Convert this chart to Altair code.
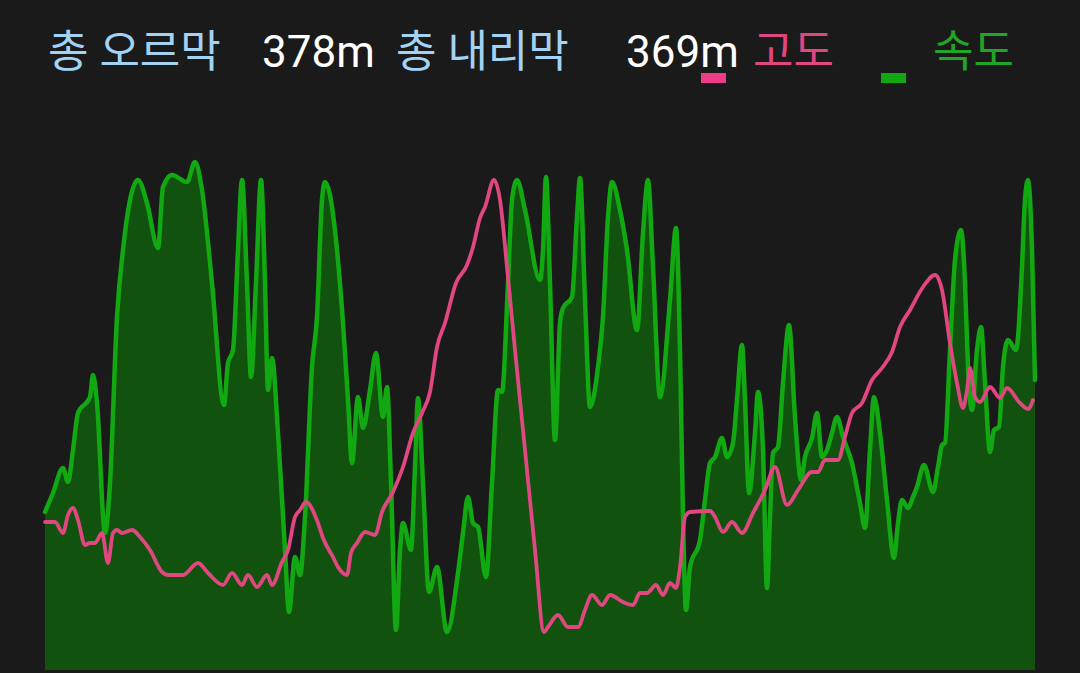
import altair as alt
import pandas as pd

# ---- data ----
speed_km = [0.00, 0.08, 0.18, 0.23, 0.28, 0.33, 0.45, 0.48, 0.52, 0.60,
            0.65, 0.72, 0.78, 0.85, 0.93, 1.02, 1.13, 1.18, 1.27, 1.42,
            1.50, 1.57, 1.67, 1.79, 1.83, 1.88, 1.93, 1.97, 2.02, 2.06,
            2.11, 2.16, 2.20, 2.23, 2.27, 2.33, 2.40, 2.44, 2.50, 2.55,
            2.60, 2.67, 2.72, 2.77, 2.80, 2.85, 2.92, 2.98, 3.03, 3.07,
            3.13, 3.18, 3.25, 3.31, 3.38, 3.42, 3.46, 3.51, 3.55, 3.58,
            3.66, 3.70, 3.73, 3.78, 3.84, 3.92, 4.02, 4.13, 4.18, 4.23,
            4.28, 4.33, 4.41, 4.47, 4.53, 4.57, 4.63, 4.67, 4.72, 4.80,
            4.95, 4.98, 5.01, 5.05, 5.10, 5.15, 5.18, 5.27, 5.32, 5.35,
            5.40, 5.45, 5.53, 5.58, 5.63, 5.67, 5.75, 5.82, 5.92, 5.98,
            6.03, 6.08, 6.15, 6.25, 6.31, 6.35, 6.38, 6.41, 6.45, 6.55,
            6.60, 6.65, 6.70, 6.77, 6.82, 6.88, 6.92, 6.97, 7.00, 7.04,
            7.10, 7.13, 7.18, 7.22, 7.25, 7.28, 7.33, 7.38, 7.44, 7.50,
            7.56, 7.60, 7.67, 7.72, 7.77, 7.82, 7.87, 7.92, 7.98, 8.07,
            8.15, 8.20, 8.25, 8.29, 8.35, 8.42, 8.49, 8.53, 8.57, 8.63,
            8.68, 8.72, 8.79, 8.88, 8.93, 8.97, 9.00, 9.05, 9.10, 9.16,
            9.20, 9.23, 9.27, 9.32, 9.36, 9.40, 9.45, 9.49, 9.54, 9.58,
            9.63, 9.71, 9.77, 9.80, 9.83, 9.87, 9.90]
speed_kmh = [7.9, 8.85, 10.1, 9.4, 11.0, 12.85, 13.65, 14.75, 13.35, 6.85,
             9.35, 17.65, 21.0, 23.5, 24.5, 23.35, 21.1, 24.15, 24.75, 24.4,
             25.4, 24.0, 19.35, 13.25, 15.35, 16.0, 21.0, 24.5, 19.35, 14.65,
             19.35, 24.5, 19.35, 14.0, 15.6, 11.85, 6.0, 2.9, 5.65, 4.75,
             7.65, 15.15, 17.65, 23.5, 24.4, 23.75, 21.0, 17.35, 13.5, 10.35,
             13.65, 12.1, 14.0, 15.85, 12.65, 14.15, 9.35, 2.0, 6.0, 7.35,
             6.0, 10.15, 13.6, 9.35, 3.9, 5.15, 1.9, 4.85, 6.85, 8.65,
             7.35, 7.15, 4.65, 9.35, 14.0, 13.9, 19.35, 23.5, 24.5, 23.0,
             19.5, 21.0, 24.65, 19.35, 11.5, 17.35, 18.1, 18.65, 22.65, 24.6,
             18.5, 13.15, 15.15, 17.65, 22.65, 24.4, 23.0, 21.0, 17.0, 21.85,
             24.5, 20.15, 13.65, 18.5, 22.1, 16.0, 7.65, 3.0, 5.15, 6.5,
             8.5, 10.35, 10.65, 11.6, 10.65, 11.35, 13.5, 16.25, 13.5, 8.85,
             11.85, 13.9, 11.0, 4.1, 7.65, 10.85, 11.15, 14.35, 17.25, 12.65,
             9.5, 10.65, 11.6, 12.85, 10.65, 11.0, 11.85, 12.65, 11.65, 10.35,
             8.35, 7.1, 11.0, 13.65, 11.85, 8.5, 5.6, 7.35, 8.5, 8.1,
             8.65, 9.15, 10.25, 8.9, 10.15, 11.25, 11.35, 16.0, 20.5, 22.0,
             19.35, 15.15, 13.0, 16.0, 17.15, 14.35, 10.9, 12.0, 12.15, 15.15,
             16.5, 16.0, 20.15, 23.5, 24.5, 21.0, 14.5]

alt_km = [0.00, 0.10, 0.18, 0.23, 0.28, 0.33, 0.40, 0.45, 0.50, 0.57,
          0.63, 0.68, 0.72, 0.77, 0.87, 0.95, 1.05, 1.17, 1.23, 1.38,
          1.53, 1.63, 1.78, 1.87, 1.97, 2.03, 2.12, 2.22, 2.27, 2.37,
          2.43, 2.50, 2.55, 2.61, 2.73, 2.78, 2.88, 2.93, 3.02, 3.06,
          3.12, 3.20, 3.30, 3.37, 3.48, 3.58, 3.68, 3.77, 3.85, 3.92,
          4.00, 4.11, 4.22, 4.28, 4.35, 4.40, 4.49, 4.55, 4.62, 4.70,
          4.80, 4.90, 4.99, 5.03, 5.13, 5.23, 5.33, 5.40, 5.47, 5.57,
          5.65, 5.78, 5.88, 5.95, 6.02, 6.11, 6.18, 6.25, 6.31, 6.35,
          6.40, 6.45, 6.65, 6.70, 6.78, 6.87, 6.97, 7.08, 7.20, 7.30,
          7.42, 7.53, 7.67, 7.73, 7.80, 7.93, 8.00, 8.07, 8.17, 8.27,
          8.37, 8.47, 8.55, 8.65, 8.78, 8.90, 8.97, 9.05, 9.12, 9.18,
          9.22, 9.25, 9.30, 9.35, 9.45, 9.55, 9.62, 9.75, 9.83, 9.88]
alt_m = [124, 124, 118.5, 127.5, 131, 125, 112.5, 113.5, 113.5, 118.5,
         103.5, 118.5, 120, 118.5, 120, 116.5, 110, 99, 97.5, 97.5,
         103.5, 98.5, 92.5, 98.5, 92.5, 97.5, 91.5, 97.5, 92.5, 104,
         110, 126.5, 130, 134, 123.5, 116, 106.5, 101.5, 97.5, 108.5,
         113.5, 119, 117.5, 129, 139, 151.5, 168.5, 178.5, 189, 211.5,
         223.5, 243.5, 252.5, 261.5, 276, 281.5, 295, 285, 251.5, 210,
         160, 110, 69, 71.5, 77.5, 71.5, 71.5, 80, 87.5, 82.5,
         87.5, 84, 82.5, 88.5, 88.5, 92.5, 87.5, 93.5, 91, 101.5,
         126.5, 129, 129.5, 126.5, 119, 124, 118.5, 128.5, 140, 151.5,
         132.5, 140, 149, 149, 155, 155, 166.5, 178.5, 183.5, 195,
         201, 209, 221.5, 230, 241.5, 247.5, 240, 213.5, 193.5, 181,
         190, 201, 186.5, 184, 191.5, 186, 191, 183.5, 180.5, 185]

ascent_label = "총 오르막"
ascent_value = "378m"
descent_label = "총 내리막"
descent_value = "369m"
legend_alt = "고도"
legend_speed = "속도"

# ---- styles ----
BG = "#1a1a1a"
AREA = "#11520f"
GREEN = "#12a812"
PINK = "#e0467f"
SWATCH_PINK = "#f03c88"
SWATCH_GREEN = "#10a810"
BLUE = "#a3d2f2"
WHITE = "#ffffff"
TEXT_GREEN = "#21a526"
FONT = "Roboto, 'Noto Sans CJK KR', sans-serif"

speed_df = pd.DataFrame({"distance": speed_km, "speed": speed_kmh})
alt_df = pd.DataFrame({"distance": alt_km, "altitude": alt_m})

xscale = alt.Scale(domain=[0, 9.9], nice=False, zero=False)
sscale = alt.Scale(domain=[0, 28.5], nice=False)
ascale = alt.Scale(domain=[50, 335], nice=False, zero=False)

speed_area = alt.Chart(speed_df).mark_area(color=AREA, interpolate="monotone").encode(
    x=alt.X("distance:Q", scale=xscale, axis=None),
    y=alt.Y("speed:Q", scale=sscale, axis=None),
)
speed_line = alt.Chart(speed_df).mark_line(
    color=GREEN, strokeWidth=4.5, interpolate="monotone", strokeJoin="round", strokeCap="round"
).encode(
    x=alt.X("distance:Q", scale=xscale, axis=None),
    y=alt.Y("speed:Q", scale=sscale, axis=None),
)
alt_line = alt.Chart(alt_df).mark_line(
    color=PINK, strokeWidth=3.8, interpolate="monotone", strokeJoin="round", strokeCap="round"
).encode(
    x=alt.X("distance:Q", scale=xscale, axis=None),
    y=alt.Y("altitude:Q", scale=ascale, axis=None),
)

one = alt.Data(values=[{}])


def label(txt, x, color, size):
    return alt.Chart(one).mark_text(
        text=txt, align="left", baseline="alphabetic", font=FONT, fontSize=size, color=color
    ).encode(x=alt.value(x), y=alt.value(-33))


def swatch(x0, color):
    return alt.Chart(one).mark_rect(color=color).encode(
        x=alt.value(x0), x2=alt.value(x0 + 25), y=alt.value(-27), y2=alt.value(-17)
    )


chart = alt.layer(
    speed_area,
    speed_line,
    alt_line,
    label(ascent_label, 3, BLUE, 44),
    label(ascent_value, 217, WHITE, 44),
    label(descent_label, 351, BLUE, 44),
    label(descent_value, 581, WHITE, 44),
    swatch(656, SWATCH_PINK),
    label(legend_alt, 708, PINK, 44),
    swatch(836, SWATCH_GREEN),
    label(legend_speed, 888, TEXT_GREEN, 44),
).resolve_scale(y="independent").properties(
    width=990,
    height=570,
    padding={"left": 37, "top": 92, "right": 37, "bottom": 0},
    autosize=alt.AutoSizeParams(type="none"),
    background=BG,
).configure_view(strokeWidth=0)


class _DarkPage:
    def render(self, **kw):
        from altair.utils.html import TEMPLATES
        html = TEMPLATES["standard"].render(**kw)
        css = "<style>html, body { background: #1a1a1a; overflow: hidden; }</style>"
        return html.replace("<head>", "<head>\n" + css, 1)


try:
    import altair.utils.html  # noqa: F401
    chart.save("out.html", embed_options={"renderer": "svg", "actions": False}, template=_DarkPage())
except Exception:
    chart.save("out.html", embed_options={"renderer": "svg", "actions": False})
